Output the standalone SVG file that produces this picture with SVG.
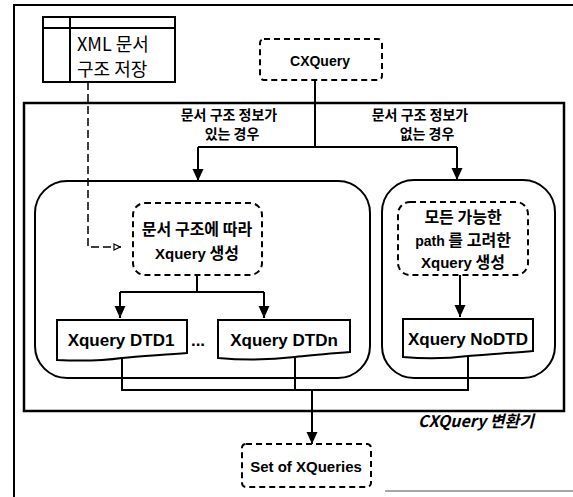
<svg xmlns="http://www.w3.org/2000/svg" width="573" height="497" viewBox="0 0 573 497">
<style>
.ln{fill:none;stroke:#000;stroke-width:2}
.dsh{fill:#fff;stroke:#000;stroke-width:2;stroke-dasharray:6,4}
.box{fill:#fff;stroke:#000;stroke-width:2}
.kb{font-family:"Noto Sans CJK KR","Liberation Sans",sans-serif;font-weight:bold;fill:#000;text-anchor:middle}
.lb{font-family:"Liberation Sans","Noto Sans CJK KR",sans-serif;font-weight:bold;fill:#000;text-anchor:middle}
.kr{font-family:"Noto Sans CJK KR","Liberation Sans",sans-serif;fill:#000}
</style>
<defs>
<marker id="ah" viewBox="0 0 12 12" refX="12" refY="6" markerWidth="12" markerHeight="12" markerUnits="userSpaceOnUse" orient="auto">
<path d="M0,0.5 L12,6 L0,11.5 Z" fill="#000"/>
</marker>
<marker id="oh" viewBox="0 0 8 8" refX="8" refY="4" markerWidth="8" markerHeight="8" markerUnits="userSpaceOnUse" orient="auto">
<path d="M1,1 L7,4 L1,7 Z" fill="#fff" stroke="#000" stroke-width="1.2"/>
</marker>
</defs>
<rect width="573" height="497" fill="#fff"/>
<g id="outer-frame">
<path class="ln" d="M14,497 V5 H573"/>
<path d="M385,491 H573" fill="none" stroke="#888" stroke-width="1.5"/>
</g>
<g id="converter-frame">
<rect x="24" y="103" width="540" height="308" fill="#fff" stroke="#000" stroke-width="2.5"/>
<text x="476" y="427" class="kb" font-size="16" font-style="italic">CXQuery 변환기</text>
</g>
<g id="xml-store">
<rect x="43" y="17" width="132" height="65" class="box"/>
<path class="ln" d="M43,28 H175 M70,17 V82" stroke-width="1.5"/>
<text x="77" y="51" class="kr" font-size="18">XML 문서</text>
<text x="77" y="76" class="kr" font-size="18">구조 저장</text>
</g>
<g id="cxquery">
<rect x="260" y="39" width="122" height="41" rx="4" class="dsh"/>
<text x="320" y="66" class="lb" font-size="14">CXQuery</text>
</g>
<g id="left-group">
<rect x="35" y="181" width="335" height="197" rx="32" class="box"/>
</g>
<g id="right-group">
<rect x="382" y="180" width="173" height="198" rx="32" class="box"/>
</g>
<g id="gen-dtd">
<rect x="133" y="203" width="129" height="72" rx="12" class="dsh"/>
<text x="197" y="235" class="kb" font-size="16">문서 구조에 따라</text>
<text x="197" y="259" class="kb" font-size="16"><tspan font-family="Liberation Sans" font-size="15">Xquery</tspan> 생성</text>
</g>
<g id="gen-nodtd">
<rect x="398" y="202" width="130" height="73" rx="12" class="dsh"/>
<text x="463" y="223" class="kb" font-size="16">모든 가능한</text>
<text x="463" y="246" class="kb" font-size="16"><tspan font-family="Liberation Sans" font-size="14">path</tspan> 를 고려한</text>
<text x="463" y="268" class="kb" font-size="16"><tspan font-family="Liberation Sans" font-size="15">Xquery</tspan> 생성</text>
</g>
<g id="xq-dtd1">
<path class="box" d="M57,320 H187 V353 C165,355 140,356 122,358 C100,361 78,361 57,360 Z"/>
<text x="121" y="346" class="lb" font-size="17">Xquery DTD1</text>
</g>
<text x="198" y="346" class="lb" font-size="17">...</text>
<g id="xq-dtdn">
<path class="box" d="M218,320 H350 V352 C325,354 310,355 295,357 C270,360 240,360 218,358 Z"/>
<text x="284" y="346" class="lb" font-size="17">Xquery DTDn</text>
</g>
<g id="xq-nodtd">
<path class="box" d="M403,319 H533 V351 C510,353 490,354 468,356 C445,359 425,359 403,357 Z"/>
<text x="468" y="345" class="lb" font-size="17">Xquery NoDTD</text>
</g>
<g id="set-xqueries">
<rect x="242" y="444" width="129" height="43" rx="4" class="dsh"/>
<text x="306" y="472" class="lb" font-size="15">Set of XQueries</text>
</g>
<g id="labels">
<text x="229" y="120" class="kb" font-size="14">문서 구조 정보가</text>
<text x="232" y="139" class="kb" font-size="14">있는 경우</text>
<text x="420" y="120" class="kb" font-size="14">문서 구조 정보가</text>
<text x="427" y="139" class="kb" font-size="14">없는 경우</text>
</g>
<g id="connectors">
<path class="ln" d="M315,80 V147"/>
<path class="ln" d="M198,147 H457"/>
<path class="ln" d="M198,147 V181" marker-end="url(#ah)"/>
<path class="ln" d="M457,147 V180" marker-end="url(#ah)"/>
<path d="M88,82 V247 H121" fill="none" stroke="#000" stroke-width="1.5" stroke-dasharray="8,4" marker-end="url(#oh)"/>
<path class="ln" d="M197,275 V292 M120,292 H264"/>
<path class="ln" d="M120,292 V318" marker-end="url(#ah)"/>
<path class="ln" d="M264,292 V318" marker-end="url(#ah)"/>
<path class="ln" d="M460,275 V317" marker-end="url(#ah)"/>
<path class="ln" d="M122,358 V390 H468 V356 M295,357 V390"/>
<path class="ln" d="M312,390 V444" marker-end="url(#ah)"/>
</g>
</svg>
